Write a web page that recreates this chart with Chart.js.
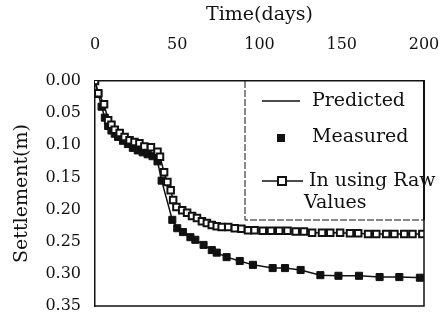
<!doctype html>
<html lang="en">
<head>
<meta charset="utf-8">
<title>Settlement vs Time</title>
<style>
  * { margin: 0; padding: 0; }
  body { background: #fff; }
  .chartBox { width: 444px; height: 320px; }
</style>
</head>
<body>
<div class="chartBox"><canvas id="myChart" width="444" height="320"></canvas></div>
<script src="https://cdn.jsdelivr.net/npm/chart.js"></script>
<script>
// tick labels
const xTicks = [0, 50, 100, 150, 200];
const yTicks = [0.00, 0.05, 0.10, 0.15, 0.20, 0.25, 0.30, 0.35];

// measured settlement (filled squares)
const measuredDays = [0, 2, 4, 6, 8, 10, 12, 14, 17, 20, 23, 26, 29, 32, 35, 38, 40.5, 47, 50, 53.5, 58, 61, 66, 71, 74, 80, 88, 96, 108, 115.5, 125, 137, 148, 160.5, 173, 185, 197.5];
const measuredValues = [0.000, 0.020, 0.040, 0.057, 0.070, 0.077, 0.082, 0.087, 0.093, 0.098, 0.104, 0.108, 0.111, 0.114, 0.117, 0.125, 0.155, 0.216, 0.229, 0.235, 0.243, 0.247, 0.255, 0.263, 0.267, 0.274, 0.280, 0.286, 0.291, 0.291, 0.294, 0.302, 0.303, 0.303, 0.305, 0.305, 0.306];

// predicted curve (solid line)
const predictedDays = [0, 2, 4, 6, 8, 10, 12, 14, 17, 20, 23, 26, 29, 32, 35, 38, 40.5, 47, 50, 53.5, 58, 61, 66, 71, 74, 80, 88, 96, 108, 115.5, 125, 137, 148, 160.5, 173, 185, 200];
const predictedValues = [0.000, 0.020, 0.040, 0.057, 0.070, 0.077, 0.082, 0.087, 0.093, 0.098, 0.104, 0.108, 0.111, 0.114, 0.117, 0.125, 0.155, 0.216, 0.229, 0.235, 0.243, 0.247, 0.255, 0.263, 0.267, 0.274, 0.280, 0.286, 0.291, 0.291, 0.294, 0.302, 0.303, 0.303, 0.305, 0.305, 0.306];

// in using raw values (open squares)
const rawDays = [0, 2, 5.5, 8, 10, 12, 15, 18, 21, 24, 27, 30, 34, 38, 39.5, 42, 44, 46, 47.5, 49.5, 53, 56, 59, 62, 65, 68, 71, 74, 77, 81, 85, 89, 93, 97, 102, 107, 112, 117, 122, 127, 132, 138, 143, 149, 155, 160, 166, 171, 177, 182, 188, 193, 199];
const rawValues = [0.000, 0.019, 0.036, 0.061, 0.068, 0.076, 0.081, 0.087, 0.092, 0.095, 0.097, 0.102, 0.103, 0.110, 0.118, 0.142, 0.157, 0.170, 0.185, 0.196, 0.201, 0.205, 0.210, 0.213, 0.218, 0.221, 0.224, 0.226, 0.227, 0.227, 0.229, 0.230, 0.232, 0.232, 0.233, 0.233, 0.233, 0.233, 0.234, 0.234, 0.236, 0.236, 0.236, 0.236, 0.237, 0.237, 0.238, 0.238, 0.238, 0.238, 0.238, 0.238, 0.238];

const toPoints = (xs, ys) => xs.map((x, i) => ({ x: x, y: ys[i] }));
const FONT = '"DejaVu Serif", "Liberation Serif", serif';
const INK = '#111';

// right/bottom frame and the boxed legend inside the plot
const frameAndLegend = {
    id: 'frameAndLegend',
    afterDatasetsDraw(chart) {
        const { ctx, chartArea: a } = chart;
        ctx.save();
        ctx.strokeStyle = INK;
        ctx.lineWidth = 1.5;
        ctx.beginPath();
        ctx.moveTo(a.right, a.top);
        ctx.lineTo(a.right, a.bottom);
        ctx.lineTo(a.left, a.bottom);
        ctx.stroke();

        // legend box
        const bx = a.left + 150, by = a.top, bw = a.right - bx, bh = 139;
        ctx.fillStyle = '#fff';
        ctx.fillRect(bx, by + 1, bw - 1, bh - 1);
        ctx.lineWidth = 1;
        ctx.setLineDash([7, 2]);
        ctx.beginPath();
        ctx.moveTo(bx, by);
        ctx.lineTo(bx, by + bh);
        ctx.lineTo(a.right, by + bh);
        ctx.stroke();
        ctx.setLineDash([]);
        ctx.lineWidth = 2;
        ctx.beginPath();
        ctx.moveTo(a.right, by);
        ctx.lineTo(a.right, by + bh);
        ctx.stroke();

        ctx.fillStyle = INK;
        ctx.font = '19px ' + FONT;
        ctx.textBaseline = 'middle';
        ctx.textAlign = 'left';

        // Predicted
        ctx.lineWidth = 1.5;
        ctx.beginPath();
        ctx.moveTo(bx + 17, by + 20);
        ctx.lineTo(bx + 55, by + 20);
        ctx.stroke();
        ctx.fillText('Predicted', bx + 67, by + 20);

        // Measured
        ctx.fillRect(bx + 32, by + 53, 8, 8);
        ctx.fillText('Measured', bx + 67, by + 56);

        // In using Raw Values
        ctx.beginPath();
        ctx.moveTo(bx + 17, by + 100);
        ctx.lineTo(bx + 58, by + 100);
        ctx.stroke();
        ctx.fillStyle = '#fff';
        ctx.fillRect(bx + 33, by + 96, 8, 8);
        ctx.lineWidth = 2;
        ctx.strokeRect(bx + 33, by + 96, 8, 8);
        ctx.fillStyle = INK;
        ctx.fillText('In using Raw', bx + 64, by + 100);
        ctx.fillText('Values', bx + 59, by + 122);
        ctx.restore();
    }
};

const data = {
    datasets: [{
        label: 'In using Raw Values',
        data: toPoints(rawDays, rawValues),
        borderColor: INK,
        borderWidth: 1.5,
        backgroundColor: '#fff',
        pointStyle: 'rect',
        pointRadius: 4.6,
        pointBorderWidth: 2,
        pointBorderColor: INK,
        pointBackgroundColor: '#fff',
        showLine: true,
        order: 0
    }, {
        label: 'Measured',
        data: toPoints(measuredDays, measuredValues),
        borderColor: INK,
        backgroundColor: INK,
        pointStyle: 'rect',
        pointRadius: 5,
        pointBorderWidth: 1,
        showLine: false,
        order: 1
    }, {
        label: 'Predicted',
        data: toPoints(predictedDays, predictedValues),
        borderColor: INK,
        borderWidth: 1.5,
        pointRadius: 0,
        showLine: true,
        order: 2
    }]
};

const config = {
    type: 'scatter',
    data: data,
    options: {
        responsive: false,
        animation: false,
        devicePixelRatio: 1,
        layout: { padding: { top: 0, right: 20, bottom: 14, left: 0 } },
        plugins: {
            legend: { display: false },
            tooltip: { enabled: false }
        },
        scales: {
            x: {
                type: 'linear',
                position: 'top',
                min: 0,
                max: 200,
                afterBuildTicks: (s) => { s.ticks = xTicks.map(v => ({ value: v })); },
                afterFit: (s) => { s.height = 81; s.paddingLeft = 0; s.paddingRight = 0; },
                ticks: { color: INK, padding: 27, font: { family: FONT, size: 16 } },
                grid: { display: false, drawTicks: false },
                border: { display: true, color: INK, width: 1.5 },
                title: {
                    display: true,
                    text: 'Time(days)',
                    color: INK,
                    font: { family: FONT, size: 19 },
                    padding: { top: 4, bottom: 0 }
                }
            },
            y: {
                type: 'linear',
                reverse: true,
                min: 0,
                max: 0.35,
                afterBuildTicks: (s) => { s.ticks = yTicks.map(v => ({ value: v })); },
                afterFit: (s) => { s.width = 95; s.paddingTop = 0; s.paddingBottom = 0; },
                ticks: {
                    color: INK,
                    padding: 14,
                    font: { family: FONT, size: 16 },
                    callback: (v) => Number(v).toFixed(2)
                },
                grid: { display: false, drawTicks: false },
                border: { display: true, color: INK, width: 1.5 },
                title: {
                    display: true,
                    text: 'Settlement(m)',
                    color: INK,
                    font: { family: FONT, size: 19 },
                    padding: { top: 11, bottom: 0 }
                }
            }
        }
    },
    plugins: [frameAndLegend]
};

const myChart = new Chart(document.getElementById('myChart'), config);
</script>
</body>
</html>
